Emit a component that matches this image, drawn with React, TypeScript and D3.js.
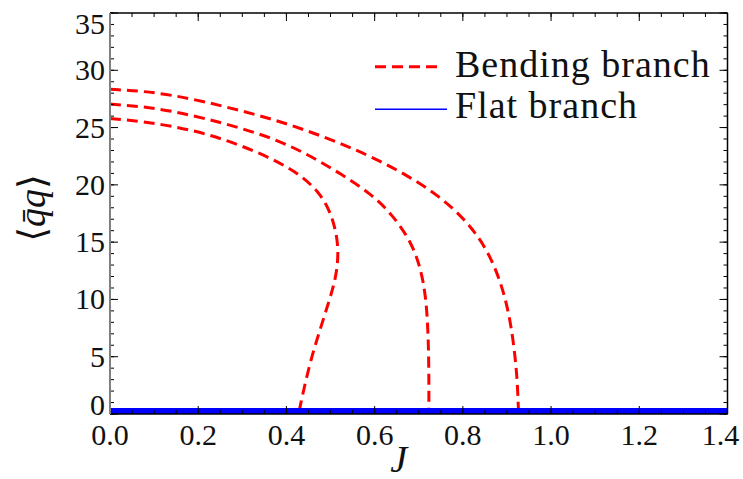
import React from 'react';
import * as d3 from 'd3';

// tick values
const xTicks = [0, 0.2, 0.4, 0.6, 0.8, 1.0, 1.2, 1.4];
const xTickLabels = ['0.0', '0.2', '0.4', '0.6', '0.8', '1.0', '1.2', '1.4'];
const yTicks = [0, 5, 10, 15, 20, 25, 30, 35];
const yTickLabels = ['0', '5', '10', '15', '20', '25', '30', '35'];

// bending branches
const jBranch1 = [0, 0.07, 0.14, 0.215, 0.291, 0.367, 0.427, 0.472, 0.503, 0.52, 0.513, 0.498, 0.474, 0.451, 0.429];
const qBranch1 = [25.8, 25.55, 25.14, 24.5, 23.53, 22.3, 21.0, 19.5, 17.5, 14.6, 12.0, 10.0, 7.1, 4.2, 0.3];
const jBranch2 = [0, 0.07, 0.14, 0.215, 0.291, 0.367, 0.442, 0.518, 0.593, 0.64, 0.682, 0.704, 0.716, 0.721, 0.723, 0.723];
const qBranch2 = [27.05, 26.85, 26.45, 25.8, 25.02, 24.1, 22.8, 21.1, 19.2, 17.4, 15.1, 12.8, 10.3, 7.4, 4.2, 0.3];
const jBranch3 = [0, 0.07, 0.14, 0.215, 0.291, 0.367, 0.442, 0.518, 0.593, 0.669, 0.744, 0.805, 0.852, 0.885, 0.906, 0.918, 0.924, 0.926];
const qBranch3 = [28.34, 28.2, 27.84, 27.26, 26.53, 25.75, 24.8, 23.7, 22.45, 20.95, 19.1, 17.0, 14.6, 11.7, 8.6, 5.3, 2.6, 0.3];

// flat branch
const jFlat = [0, 1.4];
const qFlat = [0, 0];

const branches = [
  [jBranch1, qBranch1],
  [jBranch2, qBranch2],
  [jBranch3, qBranch3],
];

const W = 743;
const H = 479;
const margin = { top: 13, right: 15.5, bottom: 65, left: 110 };
const font = '"Times New Roman", Times, "Liberation Serif", "DejaVu Serif", serif';

const App = () => {
  const x = d3.scaleLinear().domain([0, 1.4]).range([margin.left, W - margin.right]);
  const y = d3.scaleLinear().domain([0, 35]).range([H - margin.bottom, margin.top]);

  const line = d3.line<[number, number]>()
    .x((d) => x(d[0]))
    .y((d) => y(d[1]))
    .curve(d3.curveBasis);

  const flatLine = d3.line<[number, number]>()
    .x((d) => x(d[0]))
    .y((d) => y(d[1]));

  const xMinor = d3.range(0, 1.4001, 0.05);
  const yMinor = d3.range(0, 35.001, 1);

  const x0 = x(0), x1 = x(1.4), y0 = y(0), y1 = y(35);

  return (
    <svg width={W} height={H} style={{ position: 'absolute', left: 0, top: 0, background: '#fff', fontFamily: font }}>
      <defs>
        <clipPath id="plotClip">
          <rect x={x0} y={y1} width={x1 - x0} height={y0 - y1} />
        </clipPath>
      </defs>

      <g clipPath="url(#plotClip)">
        {branches.map(([js, qs], i) => (
          <path
            key={i}
            d={line(js.map((j, k) => [j, qs[k]]) as [number, number][]) || ''}
            fill="none"
            stroke="#ff0000"
            strokeWidth={3}
            strokeDasharray="11,6"
          />
        ))}
        <path
          d={flatLine(jFlat.map((j, k) => [j, qFlat[k]]) as [number, number][]) || ''}
          fill="none"
          stroke="#0000ff"
          strokeWidth={12}
        />
      </g>

      {/* minor and major ticks, mirrored */}
      <g stroke="#000" strokeWidth={1}>
        {xMinor.map((t, i) => (
          <g key={'xm' + i}>
            <line x1={x(t)} x2={x(t)} y1={y0} y2={y0 - 4} />
            <line x1={x(t)} x2={x(t)} y1={y1} y2={y1 + 4} />
          </g>
        ))}
        {yMinor.map((t, i) => (
          <g key={'ym' + i}>
            <line x1={x0} x2={x0 + 4} y1={y(t)} y2={y(t)} />
            <line x1={x1} x2={x1 - 4} y1={y(t)} y2={y(t)} />
          </g>
        ))}
        {xTicks.map((t, i) => (
          <g key={'xM' + i}>
            <line x1={x(t)} x2={x(t)} y1={y0} y2={y0 - 8} />
            <line x1={x(t)} x2={x(t)} y1={y1} y2={y1 + 8} />
          </g>
        ))}
        {yTicks.map((t, i) => (
          <g key={'yM' + i}>
            <line x1={x0} x2={x0 + 8} y1={y(t)} y2={y(t)} />
            <line x1={x1} x2={x1 - 8} y1={y(t)} y2={y(t)} />
          </g>
        ))}
      </g>

      {/* frame */}
      <line x1={x0} x2={x1} y1={y1} y2={y1} stroke="#000" strokeWidth={1.5} />
      <line x1={x1} x2={x1} y1={y1} y2={y0} stroke="#000" strokeWidth={1.5} />
      <line x1={x0} x2={x1} y1={y0} y2={y0} stroke="#000" strokeWidth={1.5} />
      <line x1={x0} x2={x0} y1={y1} y2={y0} stroke="#808080" strokeWidth={2} />

      {/* tick labels */}
      <g fontSize={30} fill="#111">
        {xTicks.map((t, i) => (
          <text key={'xl' + i} x={x(t) + (i === xTicks.length - 1 ? -7 : 0)} y={y0 + 31} textAnchor="middle">
            {xTickLabels[i]}
          </text>
        ))}
        {yTicks.map((t, i) => {
          const nudge = i === 0 ? -9 : i === yTicks.length - 1 ? 11 : 0;
          return (
            <text key={'yl' + i} x={x0 - 5} y={y(t) + nudge + 10} textAnchor="end">
              {yTickLabels[i]}
            </text>
          );
        })}
      </g>

      {/* axis titles */}
      <text x={(x0 + x1) / 2 - 20} y={472} fontSize={38} fontStyle="italic" textAnchor="middle" fill="#111">
        J
      </text>
      <text transform="translate(45,208) rotate(-90)" fontSize={38} textAnchor="middle" fill="#111">
        <tspan>⟨</tspan>
        <tspan fontStyle="italic">q̄q</tspan>
        <tspan>⟩</tspan>
      </text>

      {/* legend */}
      <g fontSize={38} fill="#111" letterSpacing={1}>
        <line x1={375} x2={442} y1={66.7} y2={66.7} stroke="#ff0000" strokeWidth={3} strokeDasharray="11,6" />
        <text x={455} y={77}>Bending branch</text>
        <line x1={375} x2={447} y1={109.3} y2={109.3} stroke="#0000ff" strokeWidth={1.5} />
        <text x={455} y={117.5}>Flat branch</text>
      </g>
    </svg>
  );
};

export default App;
